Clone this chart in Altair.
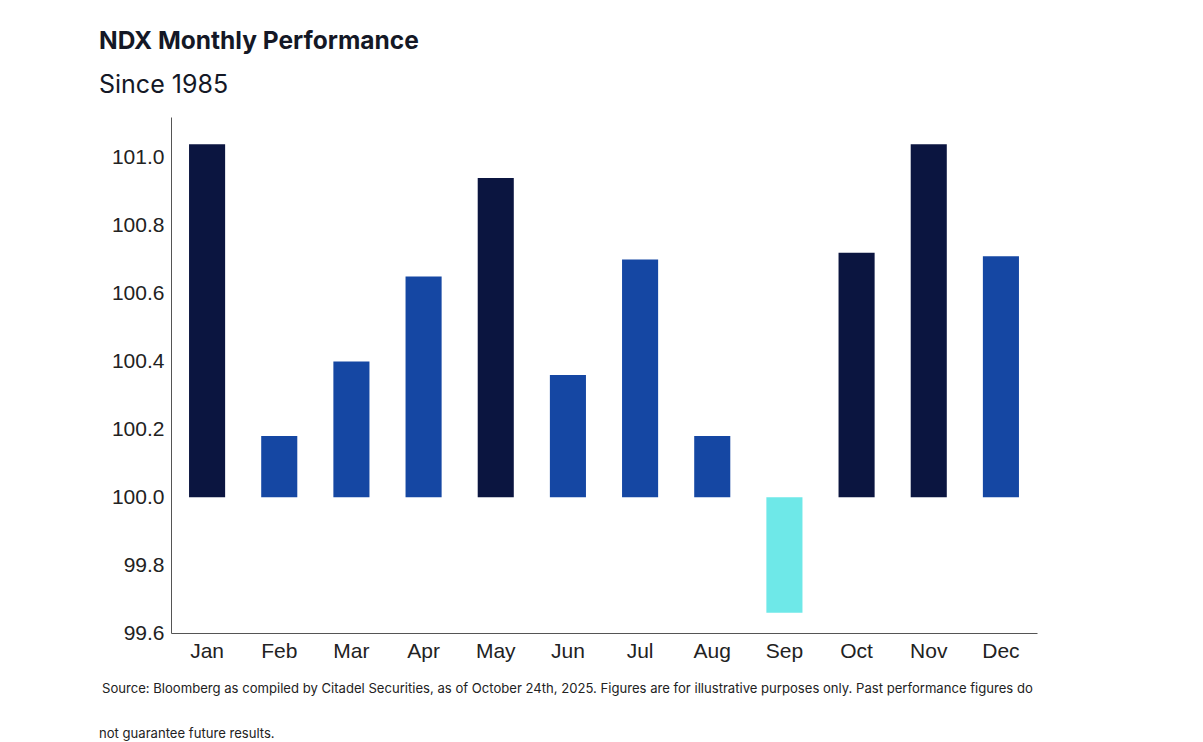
import altair as alt
import pandas as pd

months = ["Jan", "Feb", "Mar", "Apr", "May", "Jun", "Jul", "Aug", "Sep", "Oct", "Nov", "Dec"]
values = [101.04, 100.18, 100.40, 100.65, 100.94, 100.36, 100.70, 100.18, 99.66, 100.72, 101.04, 100.71]
groups = ["high", "mid", "mid", "mid", "high", "mid", "mid", "mid", "low", "high", "high", "mid"]
group_names = ["high", "mid", "low"]
group_colors = ["#0b1540", "#1547a3", "#6ee8e8"]
y_ticks = [99.6, 99.8, 100.0, 100.2, 100.4, 100.6, 100.8, 101.0]
footnotes = [
    " Source: Bloomberg as compiled by Citadel Securities, as of October 24th, 2025. Figures are for illustrative purposes only. Past performance figures do",
    "not guarantee future results.",
]

df = pd.DataFrame({"month": months, "value": values, "group": groups})
notes = pd.DataFrame({"line": footnotes, "row": [0, 1]})

bars = alt.Chart(df).mark_bar().encode(
    x=alt.X("month:N", sort=months, title=None,
            scale=alt.Scale(paddingInner=0.5, paddingOuter=0.25),
            axis=alt.Axis(labelAngle=0, ticks=False, labelFontSize=21, labelPadding=7,
                          labelFont="Liberation Sans", labelColor="#222",
                          domainColor="#555", grid=False)),
    y=alt.Y("value:Q", title=None,
            scale=alt.Scale(domain=[99.6, 101.12], nice=False, zero=False),
            axis=alt.Axis(values=y_ticks, format=".1f", ticks=False, labelFontSize=21,
                          labelPadding=7, labelFont="Liberation Sans", labelColor="#222",
                          domainColor="#555", grid=False)),
    y2=alt.datum(100),
    color=alt.Color("group:N", scale=alt.Scale(domain=group_names, range=group_colors), legend=None),
)

footer1 = alt.Chart(notes).transform_filter("datum.row == 0").mark_text(
    align="left", baseline="alphabetic", font="Inter", fontSize=13.1, color="#222"
).encode(text="line:N", x=alt.value(-69), y=alt.value(576))

footer2 = alt.Chart(notes).transform_filter("datum.row == 1").mark_text(
    align="left", baseline="alphabetic", font="Inter", fontSize=13.1, color="#222"
).encode(text="line:N", x=alt.value(-72), y=alt.value(621))

chart = alt.layer(bars, footer1, footer2).properties(
    width=866, height=516,
    title=alt.TitleParams(
        text="NDX Monthly Performance", subtitle="Since 1985",
        anchor="start", frame="group", dx=-72, offset=18,
        font="Inter", fontSize=24.5, fontWeight="bold", color="#141826",
        subtitleFont="Inter", subtitleFontSize=25, subtitleColor="#141826",
        subtitlePadding=19,
    ),
    autosize=alt.AutoSizeParams(type="none"),
    padding={"left": 163, "top": 109, "right": 150, "bottom": 110},
).configure(background="white").configure_view(stroke=None)

chart.save("out.html", embed_options={"renderer": "svg", "actions": False})
